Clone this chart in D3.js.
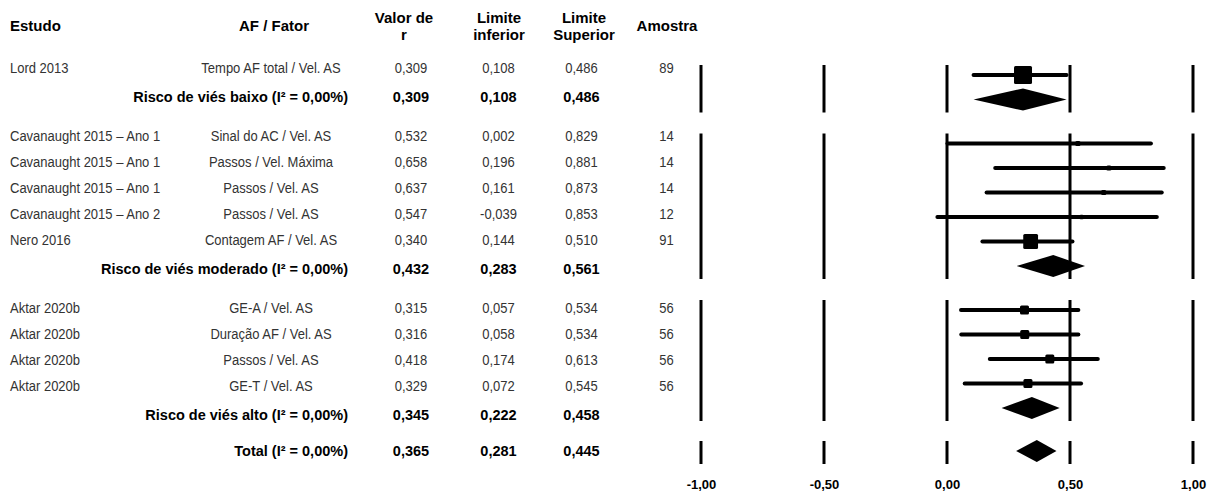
<!DOCTYPE html>
<html>
<head>
<meta charset="utf-8">
<script src="https://cdn.jsdelivr.net/npm/d3@7"></script>
<style>
  body { margin: 0; background: #fff; }
  svg text { font-family: "Liberation Sans", Arial, sans-serif; }
</style>
</head>
<body>
<svg id="chart" width="1218" height="495"></svg>
<script>
// ---- data ----
const studies = [
    "Lord 2013",
    "Cavanaught 2015 – Ano 1", "Cavanaught 2015 – Ano 1", "Cavanaught 2015 – Ano 1",
    "Cavanaught 2015 – Ano 2", "Nero 2016",
    "Aktar 2020b", "Aktar 2020b", "Aktar 2020b", "Aktar 2020b"
];
const factors = [
    "Tempo AF total / Vel. AS",
    "Sinal do AC / Vel. AS", "Passos / Vel. Máxima", "Passos / Vel. AS",
    "Passos / Vel. AS", "Contagem AF / Vel. AS",
    "GE-A / Vel. AS", "Duração AF / Vel. AS", "Passos / Vel. AS", "GE-T / Vel. AS"
];
const studyGroup = [0, 1, 1, 1, 1, 1, 2, 2, 2, 2];
const rValues  = [0.309, 0.532, 0.658, 0.637, 0.547, 0.340, 0.315, 0.316, 0.418, 0.329];
const lowerCI  = [0.108, 0.002, 0.196, 0.161, -0.039, 0.144, 0.057, 0.058, 0.174, 0.072];
const upperCI  = [0.486, 0.829, 0.881, 0.873, 0.853, 0.510, 0.534, 0.534, 0.613, 0.545];
const sampleSize = [89, 14, 14, 14, 12, 91, 56, 56, 56, 56];

const groupLabels = [
    "Risco de viés baixo (I² = 0,00%)",
    "Risco de viés moderado (I² = 0,00%)",
    "Risco de viés alto (I² = 0,00%)"
];
const groupR     = [0.309, 0.432, 0.345];
const groupLower = [0.108, 0.283, 0.222];
const groupUpper = [0.486, 0.561, 0.458];

const totalLabel = "Total (I² = 0,00%)";
const totalR = 0.365, totalLower = 0.281, totalUpper = 0.445;

const tickValues = [-1, -0.5, 0, 0.5, 1];

// ---- setup ----
const svg = d3.select("#chart");
const locale = d3.formatLocale({decimal: ",", thousands: ".", grouping: [3], currency: ["", ""], minus: "-"});
const f3 = locale.format(".3f");
const f2 = locale.format(".2f");

const x = d3.scaleLinear().domain([-1, 1]).range([701, 1193]);

// build rows (study / summary / total)
const rows = [];
groupLabels.forEach((label, g) => {
    studies.forEach((s, i) => {
        if (studyGroup[i] !== g) return;
        rows.push({type: "study", group: g, study: s, factor: factors[i], r: rValues[i], lo: lowerCI[i], hi: upperCI[i], n: sampleSize[i]});
    });
    rows.push({type: "summary", group: g, label: label, r: groupR[g], lo: groupLower[g], hi: groupUpper[g]});
});
rows.push({type: "total", group: 3, label: totalLabel, r: totalR, lo: totalLower, hi: totalUpper});

// vertical layout: text column and plot column are laid out separately
rows.forEach((d, i) => {
    if (i === 0) { d.ty = 68; d.py = 75; return; }
    const p = rows[i - 1];
    if (p.type === "study" && d.type === "study") { d.ty = p.ty + 26; d.py = p.py + 24.5; }
    else if (p.type === "study") { d.ty = p.ty + 28.5; d.py = p.py + 24.5; }
    else if (d.type === "total") { d.ty = p.ty + 36; d.py = p.py + 43; }
    else { d.ty = p.ty + 39.5; d.py = p.py + 44; }
});

// relative weight inside each subgroup -> marker size
const groupWeight = d3.rollup(rows.filter(d => d.type === "study"), v => d3.sum(v, d => d.n - 3), d => d.group);
const boxSize = d3.scaleSqrt().domain([0, 1]).range([0, 18]);
const side = d => boxSize((d.n - 3) / groupWeight.get(d.group));

// text helper
function addText(g, px, py, str, opt = {}) {
    const sx = opt.sx || 1;
    return g.append("text")
        .attr("transform", `translate(${px},${py}) scale(${sx},1)`)
        .attr("text-anchor", opt.anchor || "start")
        .attr("dy", opt.dy ?? "0.36em")
        .style("font-size", (opt.size || 15) + "px")
        .style("font-weight", opt.bold ? "bold" : "normal")
        .style("fill", opt.bold ? "#000" : "#333")
        .text(str);
}

// headers
const head = svg.append("g").attr("class", "header");
const hOpt = {bold: true, size: 15, dy: 0};
addText(head, 10, 30.5, "Estudo", hOpt);
addText(head, 274, 30.5, "AF / Fator", {...hOpt, anchor: "middle"});
addText(head, 404, 22.5, "Valor de", {...hOpt, anchor: "middle"});
addText(head, 404, 40, "r", {...hOpt, anchor: "middle"});
addText(head, 499, 22.5, "Limite", {...hOpt, anchor: "middle"});
addText(head, 499, 40, "inferior", {...hOpt, anchor: "middle"});
addText(head, 584, 22.5, "Limite", {...hOpt, anchor: "middle"});
addText(head, 584, 40, "Superior", {...hOpt, anchor: "middle"});
addText(head, 667, 31, "Amostra", {...hOpt, anchor: "middle"});

// table body
const table = svg.append("g").attr("class", "table");
const reg = {size: 15, sx: 0.867};
const bld = {size: 14.5, bold: true};
rows.forEach(d => {
    if (d.type === "study") {
        addText(table, 10, d.ty, d.study, reg);
        addText(table, 271, d.ty, d.factor, {...reg, anchor: "middle"});
        addText(table, 411, d.ty, f3(d.r), {...reg, anchor: "middle"});
        addText(table, 498.5, d.ty, f3(d.lo), {...reg, anchor: "middle"});
        addText(table, 581.5, d.ty, f3(d.hi), {...reg, anchor: "middle"});
        addText(table, 666.5, d.ty, d.n, {...reg, anchor: "middle"});
    } else {
        addText(table, 348, d.ty, d.label, {...bld, anchor: "end"});
        addText(table, 411, d.ty, f3(d.r), {...bld, anchor: "middle"});
        addText(table, 498.5, d.ty, f3(d.lo), {...bld, anchor: "middle"});
        addText(table, 581.5, d.ty, f3(d.hi), {...bld, anchor: "middle"});
    }
});

// plot
const plot = svg.append("g").attr("class", "plot");

// vertical reference lines, one block per subgroup + total
const blocks = d3.groups(rows, d => d.group).map(([g, v]) => ({top: v[0].py - 10, bottom: v[v.length - 1].py + 13}));
blocks.forEach(b => {
    plot.append("g").selectAll("line")
        .data(tickValues).enter()
        .append("line")
        .attr("x1", d => x(d)).attr("x2", d => x(d))
        .attr("y1", b.top).attr("y2", b.bottom)
        .style("stroke", "#000")
        .style("stroke-width", 3);
});

const studyRows = rows.filter(d => d.type === "study");

// whiskers
plot.append("g").selectAll("line")
    .data(studyRows).enter()
    .append("line")
    .attr("x1", d => x(d.lo)).attr("x2", d => x(d.hi))
    .attr("y1", d => d.py).attr("y2", d => d.py)
    .style("stroke", "#000")
    .style("stroke-width", 4)
    .style("stroke-linecap", "round");

// boxes
plot.append("g").selectAll("rect")
    .data(studyRows).enter()
    .append("rect")
    .attr("x", d => x(d.r) - side(d) / 2)
    .attr("y", d => d.py - side(d) / 2)
    .attr("width", side)
    .attr("height", side)
    .attr("rx", 1.5)
    .style("fill", "#000");

// diamonds
const dh = 11;
plot.append("g").selectAll("path")
    .data(rows.filter(d => d.type !== "study")).enter()
    .append("path")
    .attr("d", d => `M${x(d.lo)},${d.py}L${x(d.r)},${d.py - dh}L${x(d.hi)},${d.py}L${x(d.r)},${d.py + dh}Z`)
    .style("fill", "#000");

// axis labels
const axis = d3.axisBottom(x).tickValues(tickValues).tickFormat(f2).tickSize(0).tickPadding(0);
const axisG = plot.append("g").attr("transform", "translate(0,480)").call(axis);
axisG.select(".domain").remove();
axisG.selectAll("text")
    .style("font-size", "13px")
    .style("font-weight", "bold")
    .style("fill", "#000")
    .style("font-family", "'Liberation Sans', Arial, sans-serif");
</script>
</body>
</html>
